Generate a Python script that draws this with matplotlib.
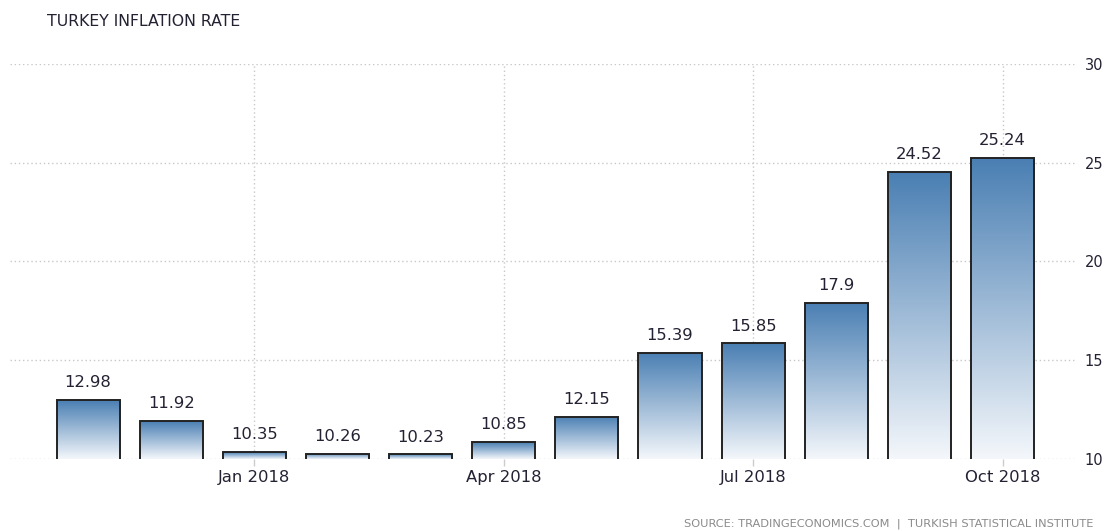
import matplotlib
matplotlib.use("Agg")
import matplotlib.pyplot as plt
import numpy as np
from matplotlib.colors import LinearSegmentedColormap

months = ["Nov 2017", "Dec 2017", "Jan 2018", "Feb 2018", "Mar 2018", "Apr 2018",
          "May 2018", "Jun 2018", "Jul 2018", "Aug 2018", "Sep 2018", "Oct 2018"]
values = [12.98, 11.92, 10.35, 10.26, 10.23, 10.85, 12.15, 15.39, 15.85, 17.9, 24.52, 25.24]
value_labels = ["12.98", "11.92", "10.35", "10.26", "10.23", "10.85", "12.15",
                "15.39", "15.85", "17.9", "24.52", "25.24"]
tick_idx = [2, 5, 8, 11]
tick_labels = ["Jan 2018", "Apr 2018", "Jul 2018", "Oct 2018"]
yticks = [10, 15, 20, 25, 30]

plt.rcParams['font.family'] = ['DejaVu Sans']
fig = plt.figure(figsize=(11.07, 5.31), dpi=100)
ax = fig.add_axes([0.009, 0.1356, 0.962, 0.7439])

x = np.arange(len(values))
ymin, ymax = 10, 30
bars = ax.bar(x, values, width=0.76, facecolor="none", edgecolor="#222222",
              linewidth=1.4, zorder=4)

cmap = LinearSegmentedColormap.from_list("grad", ["#f4f7fb", "#4a7fb3"])
grad = np.linspace(0, 1, 256).reshape(-1, 1)
for b in bars:
    x0 = b.get_x()
    w = b.get_width()
    top = b.get_height()
    im = ax.imshow(grad, extent=[x0, x0 + w, ymin, top], origin="lower",
                   cmap=cmap, aspect="auto", zorder=3, interpolation="bicubic")
    im.set_clip_path(b)

for xi, v, lab in zip(x, values, value_labels):
    ax.annotate(lab, (xi, v), xytext=(0, 7), textcoords="offset points",
                ha="center", va="bottom", fontsize=11.8, color="#222233")

ax.set_xlim(-0.94, 11.87)
ax.set_ylim(ymin, ymax)

ax.set_yticks(yticks)
ax.yaxis.tick_right()
ax.tick_params(axis="y", length=0, pad=7, labelsize=10.5, labelcolor="#222233")
ax.set_xticks(tick_idx)
ax.set_xticklabels(tick_labels)
ax.tick_params(axis="x", length=5, width=1, color="#cccccc", pad=3,
               labelsize=11.8, labelcolor="#222233")

ax.grid(True, linestyle=(0, (1, 2)), color="#c8c8c8", linewidth=1, zorder=0)
ax.set_axisbelow(True)
for s in ax.spines.values():
    s.set_visible(False)

fig.text(47 / 1107, 1 - 22 / 531, "TURKEY INFLATION RATE", ha="left", va="center",
         fontsize=11.3, color="#222233")
fig.text(1093 / 1107, 1 - 524 / 531,
         "SOURCE: TRADINGECONOMICS.COM  |  TURKISH STATISTICAL INSTITUTE",
         ha="right", va="center", fontsize=8.2, color="#8a8a8a")

fig.savefig("out.png", dpi=100)
